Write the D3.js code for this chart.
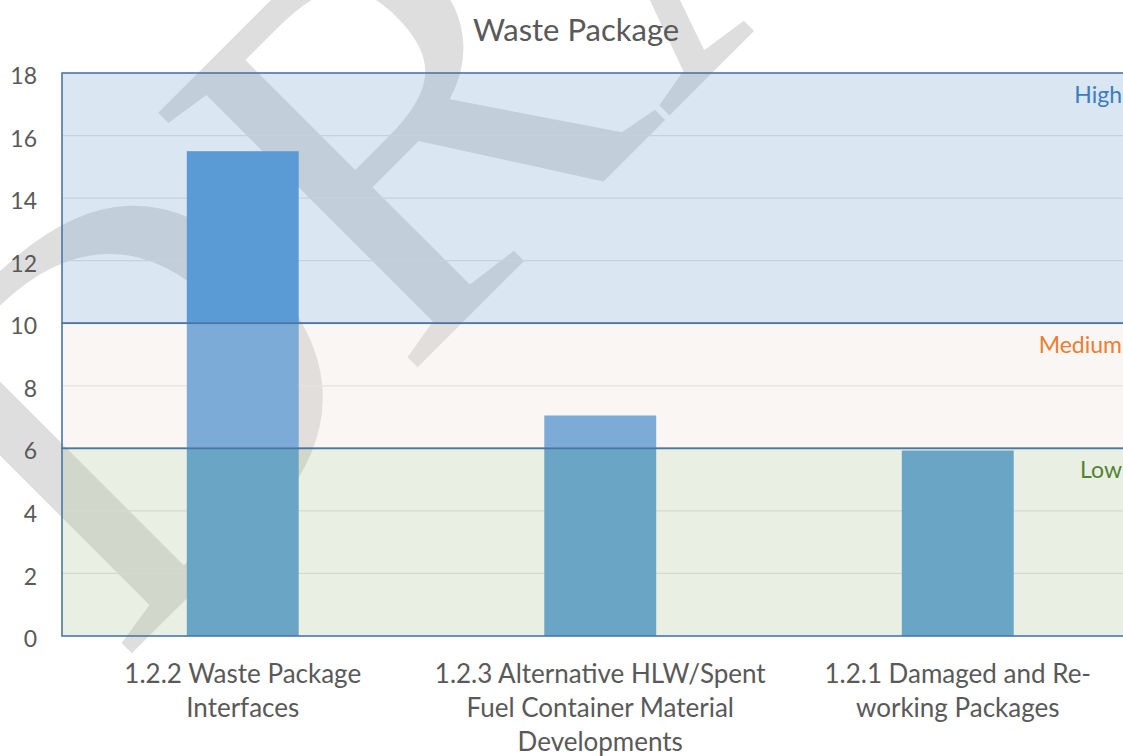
<!DOCTYPE html>
<html>
<head>
<meta charset="utf-8">
<script src="https://cdn.jsdelivr.net/npm/d3@7"></script>
<style>
  body { margin: 0; background: #fff; }
  svg { display: block; }
</style>
</head>
<body>
<div id="canvas"></div>
<script>
"use strict"

let svgWidth = 1123
let svgHeight = 756

// data
let categories = ["1.2.2 Waste Package Interfaces", "1.2.3 Alternative HLW/Spent Fuel Container Material Developments", "1.2.1 Damaged and Re-working Packages"]
let categoryLines = [["1.2.2 Waste Package", "Interfaces"], ["1.2.3 Alternative HLW/Spent", "Fuel Container Material", "Developments"], ["1.2.1 Damaged and Re-", "working Packages"]]
let values = [15.5, 7.05, 5.93]
let bandNames = ["Low", "Medium", "High"]
let bandLow = [0, 6, 10]
let bandHigh = [6, 10, 18]
let yTicks = [0, 2, 4, 6, 8, 10, 12, 14, 16, 18]
let chartTitle = "Waste Package"

let bandFill = ["#aec797", "#ecded2", "#76a2cf"]
let bandText = ["#548235", "#ed7d31", "#3a7dc0"]

let plotLeft = 62, plotTop = 73, plotBottom = 636, plotRight = 1136

let drawing = d3.select("#canvas")
    .append("svg")
    .attr("width", svgWidth)
    .attr("height", svgHeight)

let y = d3.scaleLinear().domain([0, 18]).range([plotBottom, plotTop])
let x = d3.scaleBand().domain(categories).range([64, 1136.5])
    .paddingInner(0.687).paddingOuter(0.3435)

// watermark, sits behind everything
drawing.append("text")
    .attr("transform", "translate(120.5,664.5) rotate(-45)")
    .attr("font-family", "Liberation Serif")
    .attr("font-size", 555)
    .attr("fill", "#dedede")
    .text("DRAFT")

// gridlines
drawing.append("g").selectAll("line")
    .data(yTicks.filter(d => bandLow.indexOf(d) < 0 && d !== 18))
    .join("line")
    .attr("x1", plotLeft).attr("x2", plotRight)
    .attr("y1", d => y(d)).attr("y2", d => y(d))
    .attr("stroke", "#e3e3e3")
    .attr("stroke-width", 1.3)

// bars
drawing.append("g").selectAll("rect")
    .data(values)
    .join("rect")
    .attr("x", (d, i) => x(categories[i]))
    .attr("width", x.bandwidth())
    .attr("y", d => y(d))
    .attr("height", d => plotBottom - y(d))
    .attr("fill", "#5198d7")

// translucent risk bands over the bars
drawing.append("g").selectAll("rect")
    .data(bandNames)
    .join("rect")
    .attr("x", plotLeft)
    .attr("width", plotRight - plotLeft)
    .attr("y", (d, i) => y(bandHigh[i]))
    .attr("height", (d, i) => y(bandLow[i]) - y(bandHigh[i]))
    .attr("fill", (d, i) => bandFill[i])
    .attr("fill-opacity", 0.27)
    .attr("stroke", "#4a76a6")
    .attr("stroke-width", 1.6)

drawing.append("g").selectAll("text")
    .data(bandNames)
    .join("text")
    .attr("x", 1122)
    .attr("y", (d, i) => y(bandHigh[i]) + 30)
    .attr("text-anchor", "end")
    .attr("font-family", "Lato")
    .attr("font-size", 23)
    .attr("fill", (d, i) => bandText[i])
    .text(d => d)

// y axis
let yAxis = drawing.append("g")
    .attr("transform", `translate(${plotLeft},0)`)
    .call(d3.axisLeft(y).tickValues(yTicks).tickSize(0).tickPadding(25))
yAxis.select(".domain").remove()
yAxis.selectAll("text")
    .attr("font-family", "Lato")
    .attr("font-size", 23)
    .attr("fill", "#595959")
    .attr("dy", "0.46em")

// category labels
let catLabels = drawing.append("g").selectAll("text")
    .data(categories)
    .join("text")
    .attr("x", d => x(d) + x.bandwidth() / 2)
    .attr("y", 683)
    .attr("text-anchor", "middle")
    .attr("font-family", "Lato")
    .attr("font-size", 26)
    .attr("fill", "#595959")

catLabels.selectAll("tspan")
    .data((d, i) => categoryLines[i])
    .join("tspan")
    .attr("x", function() { return this.parentNode.getAttribute("x") })
    .attr("dy", (d, i) => i === 0 ? 0 : 34)
    .text(d => d)

drawing.append("text")
    .attr("x", 576)
    .attr("y", 41)
    .attr("text-anchor", "middle")
    .attr("font-family", "Lato")
    .attr("font-size", 31)
    .attr("fill", "#595959")
    .text(chartTitle)
</script>
</body>
</html>
